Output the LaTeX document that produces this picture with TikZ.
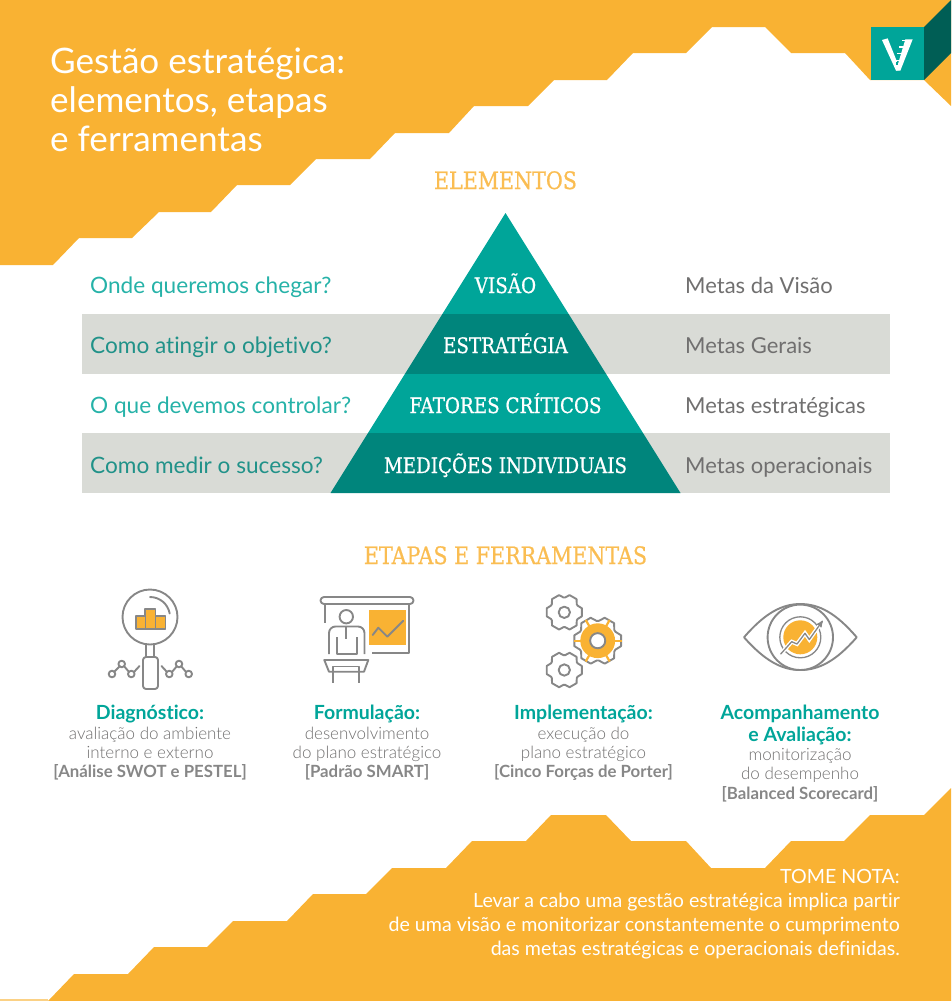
\documentclass[tikz,border=0pt]{standalone}
\usepackage{fontspec}
\setmainfont[Ligatures=NoCommon]{Lato}
\newfontfamily\lightfont[Ligatures=NoCommon]{Lato Light}
\newfontfamily\slabfont[FakeStretch=0.86,FakeBold=0.7]{DejaVu Serif}
\usetikzlibrary{calc}
\usetikzlibrary{arrows}
\definecolor{orangeback}{HTML}{F9B233}
\definecolor{tealmain}{HTML}{00A599}
\definecolor{tealdark}{HTML}{00857C}
\definecolor{tealdeep}{HTML}{005E55}
\definecolor{greyband}{HTML}{D9DBD6}
\definecolor{greytext}{HTML}{706F6F}
\definecolor{greyicon}{HTML}{878787}
\newcommand{\fsz}[1]{\fontsize{#1}{#1}\selectfont}
\tikzset{
  titlelabel/.style={text=white,anchor=base west,inner sep=0pt,font=\fsz{35.1}},
  sectionlabel/.style={text=orangeback!85!white,anchor=base,inner sep=0pt,font=\slabfont\fsz{24}},
  pyrlabel/.style={text=white,anchor=base,inner sep=0pt,font=\slabfont\fsz{21.3}},
  asklabel/.style={text=tealmain!85!white,anchor=base west,inner sep=0pt,font=\fsz{22.6}},
  metalabel/.style={text=greytext,anchor=base west,inner sep=0pt,font=\fsz{22}},
  stephead/.style={text=tealmain,anchor=base,inner sep=0pt,font=\bfseries\fsz{19.5}},
  stepbody/.style={text=greytext,anchor=base,inner sep=0pt,font=\lightfont\fsz{17}},
  steptool/.style={text=greyicon,anchor=base,inner sep=0pt,font=\bfseries\fsz{16.8}},
  notelabel/.style={text=white,anchor=base east,inner sep=0pt,font=\fsz{19.6}},
  iconline/.style={draw=greyicon,line width=1.9pt,line join=round,line cap=round},
}
% one gear: centre, outer size, fill of its body
\newcommand{\gearicon}[3]{
  \begin{scope}[shift={(#1)},scale=#2]
    \draw[iconline,fill=white] (-27:16.5)
      \foreach \a in {0,60,...,300} { -- (\a-27:16.5) -- (\a-13:20) -- (\a+13:20) -- (\a+27:16.5) } -- cycle;
    \ifx#3\relax\else
      \fill[#3] (0,0) circle (14.5);
      \foreach \a in {0,60,...,300} \draw[#3,line width=2.2pt] (\a:14) -- (\a:20);
    \fi
    \draw[iconline,fill=white] (0,0) circle (6.3);
  \end{scope}
}
\begin{document}
\begin{tikzpicture}[x=1pt,y=-1pt]
  % Boundary
  \path[use as bounding box] (0,0) rectangle (951,1001);
  % Top band
  \fill[orangeback] (0,0) -- (951,0) -- (951,106) -- (924,80) -- (870,80) -- (845,53) -- (791,53)
    -- (765,27) -- (712,27) -- (686,53) -- (633,53) -- (607,80) -- (554,80) -- (528,106) -- (474,106)
    -- (449,133) -- (395,133) -- (370,159) -- (316,159) -- (290,185) -- (237,185) -- (211,212)
    -- (159,212) -- (132,238) -- (79,238) -- (53,265) -- (0,265) -- cycle;
  % Bottom band
  \fill[orangeback] (48,1001) -- (74,974) -- (128,974) -- (154,947) -- (207,947) -- (233,921)
    -- (287,921) -- (313,894) -- (366,894) -- (392,868) -- (446,868) -- (472,841) -- (526,841)
    -- (551,815) -- (606,815) -- (631,841) -- (686,841) -- (711,868) -- (765,868) -- (791,841)
    -- (844,841) -- (870,815) -- (924,815) -- (951,788) -- (951,1001) -- cycle;
  \fill[orangeback!60!white] (0,999) rectangle (48,1001);
  % Logo
  \fill[tealmain] (871,27) rectangle (924,80);
  \fill[tealdeep] (924,27) -- (951,0) -- (951,53) -- (924,80) -- cycle;
  \begin{scope}[shift={(872,30)},scale=1/3]
    \fill[white] (30,30) -- (47,25) -- (85,120) -- (72,122) -- cycle;
    \fill[white] (72,122) -- (85,122) -- (122,28) -- (100,28) -- cycle;
    \foreach \y/\l/\r in {32/90/112,51/82/104,71/75/96,91/70/90}
      \draw[white,line width=1.5pt] (\l,\y) -- (\r,\y);
    \fill[tealmain] (72,97) rectangle (79,105);
  \end{scope}
  % Title
  \node[titlelabel] (titlea) at (50,73) {Gestão estratégica:};
  \node[titlelabel] (titleb) at (50,112) {elementos, etapas};
  \node[titlelabel] (titlec) at (50,151) {e ferramentas};
  % Elementos
  \node[sectionlabel] (elementos) at (505.5,189) {ELEMENTOS};
  \fill[greyband] (82,314) rectangle (890,374);
  \fill[greyband] (82,433) rectangle (890,493);
  \pgfmathsetmacro\k{0.625}
  \fill[tealmain] (505.5,213) -- ($(505.5,314)+(\k*101,0)$) -- ($(505.5,314)+(-\k*101,0)$) -- cycle;
  \fill[tealdark] ($(505.5,314)+(\k*101,0)$) -- ($(505.5,374)+(\k*161,0)$) -- ($(505.5,374)+(-\k*161,0)$) -- ($(505.5,314)+(-\k*101,0)$) -- cycle;
  \fill[tealmain] ($(505.5,374)+(\k*161,0)$) -- ($(505.5,433)+(\k*220,0)$) -- ($(505.5,433)+(-\k*220,0)$) -- ($(505.5,374)+(-\k*161,0)$) -- cycle;
  \fill[tealdark] ($(505.5,433)+(\k*220,0)$) -- ($(505.5,493)+(\k*280,0)$) -- ($(505.5,493)+(-\k*280,0)$) -- ($(505.5,433)+(-\k*220,0)$) -- cycle;
  \node[pyrlabel] (visao) at (505.5,293) {VISÃO};
  \node[pyrlabel] (estrategia) at (505.5,353) {ESTRATÉGIA};
  \node[pyrlabel] (fatores) at (505.5,413) {FATORES CRÍTICOS};
  \node[pyrlabel] (medicoes) at (505.5,473) {MEDIÇÕES INDIVIDUAIS};
  \node[asklabel] (aska) at (90,293) {Onde queremos chegar?};
  \node[asklabel,text=tealdark!85!greyband] (askb) at (90,353) {Como atingir o objetivo?};
  \node[asklabel] (askc) at (90,413) {O que devemos controlar?};
  \node[asklabel,text=tealdark!85!greyband] (askd) at (90,473) {Como medir o sucesso?};
  \node[metalabel] (metaa) at (685,293) {Metas da Visão};
  \node[metalabel] (metab) at (685,353) {Metas Gerais};
  \node[metalabel] (metac) at (685,413) {Metas estratégicas};
  \node[metalabel] (metad) at (685,473) {Metas operacionais};
  % Etapas
  \node[sectionlabel] (etapas) at (505.5,564) {ETAPAS E FERRAMENTAS};
  % Diagnostico icon
  \draw[iconline] (150,617) circle (27.5);
  \draw[iconline] (150,597) arc (-90:-10:20);
  \fill[orangeback] (136,616) rectangle (165,629);
  \fill[orangeback] (145,609) rectangle (155.5,629);
  \draw[iconline,line cap=butt] (136,629) -- (136,616) -- (145,616) -- (145,609) -- (155.5,609) -- (155.5,616) -- (165.5,616) -- (165.5,629) -- cycle;
  \draw[iconline,line width=1pt] (145,616) -- (145,629) (155.5,616) -- (155.5,629);
  \draw[iconline] (146,645) -- (146,657) (154,645) -- (154,657);
  \draw[iconline] (143,660) arc (180:270:3) -- (155,657) arc (270:360:3) -- (158,686) arc (0:90:3) -- (146,689) arc (90:180:3) -- cycle;
  \draw[iconline] (114,672) -- (120,666) (124,666) -- (129,672) (134,672) -- (139.5,666);
  \draw[iconline] (186,672) -- (181,666) (177,666) -- (172,672) (167,672) -- (161.5,666);
  \foreach \p in {(112,674),(121.7,664),(131.3,674),(188.7,674),(179,664),(169.3,674)}
    \draw[iconline] \p circle (3.3);
  % Formulacao icon
  \draw[iconline] (324,597) -- (410,597) arc (-90:90:3.5) -- (324,604) arc (90:270:3.5) -- cycle;
  \draw[iconline,line cap=butt] (324.7,604) -- (324.7,622.5) (409.3,604) -- (409.3,652.7) -- (371.7,652.7);
  \fill[orangeback] (368.7,610) rectangle (406,645);
  \draw[iconline] (372.7,635) -- (378.3,627.7) -- (387.3,636.7) -- (403.3,620.7);
  \draw[iconline] (346.3,616.7) circle (6.7);
  \draw[iconline,line cap=butt] (329,654) -- (329,633) arc (180:270:6.5) -- (358,626.5) arc (270:360:6.5) -- (364.5,654);
  \draw[iconline,line cap=butt] (336.7,637) -- (336.7,654) -- (356.7,654) -- (356.7,637);
  \draw[iconline,line cap=butt] (346.3,626.5) -- (346.3,638.5);
  \draw[iconline] (324.3,660) -- (368.3,660) -- (364,671.7) -- (329,671.7) -- cycle;
  \draw[iconline,line cap=butt] (333.3,682.7) -- (333.3,666.5) -- (359.3,666.5) -- (359.3,682.7);
  % Implementacao icon
  \gearicon{564.3,612.3}{0.9}{\relax}
  \gearicon{564.3,670}{0.9}{\relax}
  \gearicon{597.7,640.7}{1.2}{orangeback}
  % Acompanhamento icon
  \draw[iconline] (744,637.3) .. controls (765,613) and (782,604) .. (800.3,604) .. controls (819,604) and (836,613) .. (856.7,637.3)
    .. controls (836,661) and (819,670) .. (800.3,670) .. controls (782,670) and (765,661) .. (744,637.3) -- cycle;
  \draw[iconline,fill=white] (800.3,637.3) circle (32.7);
  \fill[orangeback] (800.3,637.3) circle (17);
  \draw[iconline,line width=1.3pt] (800.3,637.3) circle (20.5);
  \draw[white,line width=4pt] (780.7,654) -- (791.7,641.7) -- (797,644) -- (805,633.3) -- (809.3,639.5) -- (822.7,620.7);
  \draw[iconline,line width=1.3pt,-stealth'] (780.7,654) -- (791.7,641.7) -- (797,644) -- (805,633.3) -- (809.3,639.5) -- (822.7,620.7);
  % Captions
  \node[stephead] (diaghead) at (150,719) {Diagnóstico:};
  \node[stepbody] (diaga) at (150,739) {avaliação do ambiente};
  \node[stepbody] (diagb) at (150,758) {interno e externo};
  \node[steptool] (diagc) at (150,777) {[Análise SWOT e PESTEL]};
  \node[stephead] (formhead) at (367,719) {Formulação:};
  \node[stepbody] (forma) at (367,739) {desenvolvimento};
  \node[stepbody] (formb) at (367,758) {do plano estratégico};
  \node[steptool] (formc) at (367,777) {[Padrão SMART]};
  \node[stephead] (implhead) at (583.5,719) {Implementação:};
  \node[stepbody] (impla) at (583.5,739) {execução do};
  \node[stepbody] (implb) at (583.5,758) {plano estratégico};
  \node[steptool] (implc) at (583.5,777) {[Cinco Forças de Porter]};
  \node[stephead] (acomphead) at (800,719) {Acompanhamento};
  \node[stephead] (acomphea) at (800,741) {e Avaliação:};
  \node[stepbody] (acompa) at (800,760) {monitorização};
  \node[stepbody] (acompb) at (800,779) {do desempenho};
  \node[steptool] (acompc) at (800,799) {[Balanced Scorecard]};
  % Note
  \node[notelabel] (notea) at (900,883) {TOME NOTA:};
  \node[notelabel] (noteb) at (900,907) {Levar a cabo uma gestão estratégica implica partir};
  \node[notelabel] (notec) at (900,931) {de uma visão e monitorizar constantemente o cumprimento};
  \node[notelabel] (noted) at (900,955) {das metas estratégicas e operacionais definidas.};
\end{tikzpicture}
\end{document}
